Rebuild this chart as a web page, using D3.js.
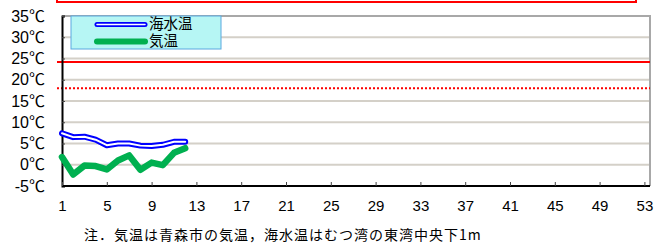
<!DOCTYPE html>
<html>
<head>
<meta charset="UTF-8">
<style>
  body { margin: 0; background: #fff; overflow: hidden; }
  text { font-family: 'Liberation Sans', Arial, 'Noto Sans CJK JP', sans-serif; fill: #000; }
</style>
<script src="https://cdn.jsdelivr.net/npm/d3@7"></script>
</head>
<body>
<svg width="655" height="244"></svg>
<script>
// weekly values (week 1..12)
let weeks = [1, 2, 3, 4, 5, 6, 7, 8, 9, 10, 11, 12];
let seaTemp = [7.4, 6.5, 6.6, 5.9, 4.6, 5.0, 5.0, 4.5, 4.4, 4.7, 5.4, 5.4];
let airTemp = [1.8, -2.3, -0.2, -0.3, -1.1, 1.0, 2.2, -1.2, 0.5, -0.1, 2.8, 3.9];
let yTicks = [-5, 0, 5, 10, 15, 20, 25, 30, 35];
let xTicks = [1, 5, 9, 13, 17, 21, 25, 29, 33, 37, 41, 45, 49, 53];
let refSolid = 24.2, refDotted = 18;
let legendNames = ["海水温", "気温"];
let note = "注．気温は青森市の気温，海水温はむつ湾の東湾中央下1m";

let svg = d3.select("svg");
let plotL = 62, plotR = 650, plotT = 16, plotB = 186;

let x = d3.scaleLinear().domain([1, 53.5]).range([plotL, plotR]);
let y = d3.scaleLinear().domain([-5, 35]).range([plotB, plotT]);

// red box at top (cut off)
svg.append("rect")
  .attr("x", 57).attr("y", -10).attr("width", 579).attr("height", 12)
  .attr("fill", "none").attr("stroke", "#ff0000").attr("stroke-width", 2);

// gridlines
svg.append("g").selectAll("line")
  .data(yTicks.filter(d => d > -5 && d < 35))
  .enter().append("line")
  .attr("x1", plotL).attr("x2", plotR)
  .attr("y1", d => y(d)).attr("y2", d => y(d))
  .attr("stroke", "#d4d0c8").attr("stroke-width", 2);

// top and right border
svg.append("path")
  .attr("d", "M" + plotL + "," + plotT + "H" + plotR + "V" + plotB)
  .attr("fill", "none").attr("stroke", "#a8a8a8").attr("stroke-width", 2);

// reference lines
svg.append("line")
  .attr("x1", 57).attr("x2", plotR)
  .attr("y1", y(refSolid)).attr("y2", y(refSolid))
  .attr("stroke", "#ff0000").attr("stroke-width", 2);
svg.append("line")
  .attr("x1", 57).attr("x2", plotR)
  .attr("y1", y(refDotted)).attr("y2", y(refDotted))
  .attr("stroke", "#ff0000").attr("stroke-width", 2)
  .attr("stroke-dasharray", "2,2");

// axes
let yAxis = d3.axisLeft(y).tickValues(yTicks).tickSize(-3).tickFormat(d => d + "℃").tickPadding(17);
let gy = svg.append("g").attr("transform", "translate(" + plotL + ",0)").call(yAxis);
gy.select(".domain").attr("stroke", "#000").attr("stroke-width", 2);
gy.selectAll(".tick line").attr("stroke", "#444");
gy.selectAll("text").style("font-size", "16px").attr("fill", "#000");

let xAxis = d3.axisBottom(x).tickValues(xTicks).tickSize(-4).tickPadding(14).tickFormat(d => d);
let gx = svg.append("g").attr("transform", "translate(0," + plotB + ")").call(xAxis);
gx.select(".domain").attr("stroke", "#000").attr("stroke-width", 2).attr("d", "M" + plotL + ",0H" + plotR);
gx.selectAll(".tick line").attr("stroke", "#444");
gx.selectAll("text").style("font-size", "15px").attr("fill", "#000");

// series
let line = d3.line().x((d, i) => x(weeks[i])).y(d => y(d));

svg.append("path").datum(seaTemp).attr("d", line)
  .attr("fill", "none").attr("stroke", "#0000ff").attr("stroke-width", 6)
  .attr("stroke-linejoin", "round").attr("stroke-linecap", "round");
svg.append("path").datum(seaTemp).attr("d", line)
  .attr("fill", "none").attr("stroke", "#ffffff").attr("stroke-width", 2)
  .attr("stroke-linejoin", "round").attr("stroke-linecap", "round");

svg.append("path").datum(airTemp).attr("d", line)
  .attr("fill", "none").attr("stroke", "#00b050").attr("stroke-width", 6.5)
  .attr("stroke-linejoin", "round").attr("stroke-linecap", "round");

// legend
let lg = svg.append("g");
lg.append("rect").attr("x", 71).attr("y", 16).attr("width", 150).attr("height", 33)
  .attr("fill", "#b6f6f4").attr("stroke", "#5aa8e0").attr("stroke-width", 1);
lg.append("line").attr("x1", 97).attr("x2", 145).attr("y1", 24.5).attr("y2", 24.5)
  .attr("stroke", "#0000ff").attr("stroke-width", 5).attr("stroke-linecap", "round");
lg.append("line").attr("x1", 97).attr("x2", 145).attr("y1", 24.5).attr("y2", 24.5)
  .attr("stroke", "#ffffff").attr("stroke-width", 1.5).attr("stroke-linecap", "round");
lg.append("line").attr("x1", 97).attr("x2", 145).attr("y1", 41.5).attr("y2", 41.5)
  .attr("stroke", "#00b050").attr("stroke-width", 6).attr("stroke-linecap", "round");
lg.selectAll("text.lab").data(legendNames).enter().append("text")
  .attr("x", 149).attr("y", (d, i) => 29 + i * 17)
  .style("font-size", "14.5px").style("font-family", "'Noto Sans CJK JP', sans-serif")
  .text(d => d);

// footnote
svg.append("text").attr("x", 84).attr("y", 240)
  .style("font-size", "14px").style("letter-spacing", "1px")
  .style("font-family", "'Noto Sans CJK JP', sans-serif")
  .text(note);
</script>
</body>
</html>
